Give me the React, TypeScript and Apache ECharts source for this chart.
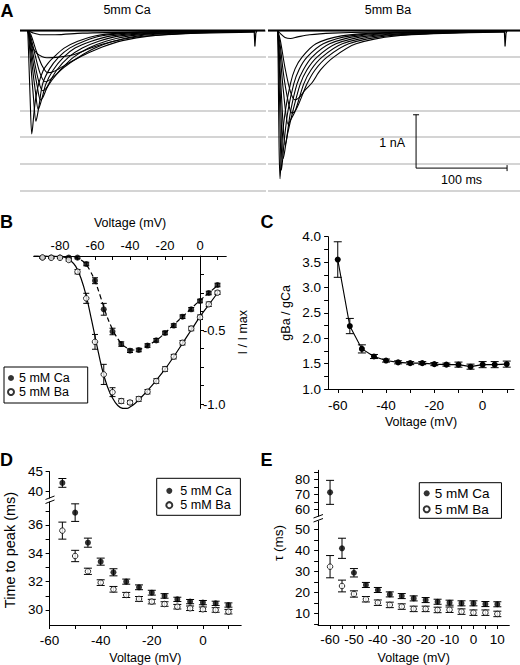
import React, { useEffect, useRef } from 'react';
import * as echarts from 'echarts';

const FONT = "'Liberation Sans', Arial, Helvetica, sans-serif";

// ---------- Panel A: current traces (t in ms, I in nA) ----------
const caTraces: number[][][] = [
  [[0,0],[0.8,-0.35],[2.5,-1.2],[4.4,-1.94],[5.5,-1.8],[7,-1.52],[9,-1.25],[12,-1.0],[17,-0.75],[22,-0.62],[28.6,-0.5],[40,-0.33],[55,-0.2],[75,-0.1],[100,-0.05],[150,-0.02],[250,-0.01]],
  [[0,0],[1,-0.1],[3,-0.55],[6.5,-1.3],[9,-1.70],[10.5,-1.6],[12.5,-1.4],[16.4,-1.0],[24,-0.72],[34,-0.5],[46,-0.33],[62,-0.2],[82,-0.1],[110,-0.05],[160,-0.02],[250,-0.01]],
  [[0,0],[1.5,-0.1],[4.5,-0.6],[8.5,-1.15],[11.5,-1.48],[13.5,-1.4],[16,-1.25],[20,-1.0],[28,-0.74],[39.5,-0.5],[52,-0.33],[70,-0.2],[92,-0.1],[125,-0.05],[180,-0.02],[250,-0.01]],
  [[0,0],[2,-0.1],[5.5,-0.55],[10.5,-1.05],[14,-1.3],[16.5,-1.26],[19.5,-1.14],[23.7,-0.98],[32,-0.74],[45,-0.5],[60,-0.33],[78,-0.2],[102,-0.1],[140,-0.05],[200,-0.02],[250,-0.01]],
  [[0,0],[2.5,-0.1],[6.5,-0.5],[12,-0.95],[16.5,-1.13],[19.5,-1.1],[23,-1.02],[28,-0.9],[37,-0.72],[50.5,-0.5],[67,-0.33],[86,-0.2],[112,-0.1],[150,-0.05],[210,-0.02],[250,-0.01]],
  [[0,0],[3,-0.1],[7.5,-0.42],[13.5,-0.8],[19,-0.96],[23,-0.94],[29,-0.86],[40,-0.69],[56,-0.5],[74,-0.33],[94,-0.2],[122,-0.1],[165,-0.05],[220,-0.02],[250,-0.015]],
  [[0,0],[3.5,-0.08],[8.5,-0.34],[15.5,-0.65],[22,-0.79],[27,-0.78],[34,-0.72],[46,-0.6],[63,-0.45],[82,-0.31],[104,-0.19],[135,-0.1],[180,-0.05],[250,-0.02]],
  [[0,0],[1.5,-0.1],[4.7,-0.29],[10,-0.43],[16,-0.49],[21,-0.51],[34,-0.5],[49,-0.46],[71,-0.32],[90,-0.22],[116,-0.13],[150,-0.08],[190,-0.05],[250,-0.03]],
  [[0,0],[5,-0.04],[15,-0.08],[30,-0.08],[60,-0.05],[120,-0.03],[250,-0.01]],
];
const baTraces: number[][][] = [
  [[0,0],[0.6,-0.8],[1.5,-2.2],[2.5,-2.78],[3.5,-2.5],[5,-2.0],[8.4,-1.5],[13.9,-1.0],[19,-0.72],[26.7,-0.5],[42,-0.25],[70,-0.1],[120,-0.04],[250,-0.01]],
  [[0,0],[1,-0.5],[2.5,-1.7],[4,-2.62],[5.2,-2.45],[7.5,-2.0],[11.3,-1.5],[17.6,-1.0],[23.5,-0.73],[32.2,-0.5],[50,-0.25],[80,-0.1],[135,-0.04],[250,-0.01]],
  [[0,0],[1.2,-0.4],[3.5,-1.5],[6,-2.4],[7.5,-2.28],[10,-2.0],[14.3,-1.5],[21.2,-1.0],[28,-0.74],[37.7,-0.5],[57,-0.25],[90,-0.1],[150,-0.04],[250,-0.01]],
  [[0,0],[1.5,-0.35],[4.5,-1.35],[8,-2.15],[9.3,-2.08],[11,-1.92],[16.8,-1.5],[24.8,-1.0],[32,-0.74],[43.2,-0.5],[64,-0.25],[100,-0.1],[165,-0.04],[250,-0.01]],
  [[0,0],[2,-0.3],[6,-1.1],[11.5,-1.76],[13.5,-1.7],[19.4,-1.5],[28.6,-1.0],[36.5,-0.74],[48.7,-0.5],[71,-0.25],[110,-0.1],[180,-0.04],[250,-0.015]],
  [[0,0],[2.5,-0.25],[7,-0.9],[13,-1.45],[16,-1.55],[19.5,-1.5],[23,-1.38],[32.2,-1.0],[41,-0.74],[54.2,-0.5],[78,-0.25],[120,-0.1],[195,-0.04],[250,-0.02]],
  [[0,0],[3,-0.2],[8,-0.7],[14,-1.15],[19,-1.3],[24,-1.25],[30,-1.12],[37.7,-0.98],[47,-0.74],[61.5,-0.5],[86,-0.25],[130,-0.1],[210,-0.04],[250,-0.03]],
  [[0,0],[3,-0.06],[8,-0.13],[14,-0.15],[22,-0.12],[35,-0.08],[60,-0.05],[100,-0.03],[250,-0.01]],
];
const caBaseline = [[-8.5, 0], [261, 0]];
const baBaseline = [[-10.7, 0], [266.2, 0]];
const caEndTransient = [[249, 0], [249.8, -0.3], [250.8, -0.05], [252, 0]];
const baEndTransient = [[249, 0], [249.8, -0.3], [250.8, -0.05], [252, 0]];
const scaleBar = [[152, -2.58, 100, 1]]; // origin t, origin I, 100 ms, 1 nA

// ---------- Panel B: normalized I-V ----------
const bVoltage = [-90,-85,-80,-75,-70,-65,-60,-55,-50,-45,-40,-35,-30,-25,-20,-15,-10,-5,0,5,10];
const bCa = [-0.01,-0.01,-0.01,-0.01,-0.011,-0.054,-0.167,-0.36,-0.51,-0.595,-0.64,-0.635,-0.605,-0.57,-0.52,-0.47,-0.41,-0.36,-0.304,-0.25,-0.196];
const bCaErr = [0.005,0.005,0.005,0.005,0.008,0.012,0.02,0.04,0.022,0.015,0.012,0.012,0.012,0.012,0.012,0.012,0.012,0.012,0.012,0.012,0.012];
const bBa = [-0.01,-0.012,-0.012,-0.027,-0.106,-0.286,-0.58,-0.80,-0.92,-0.98,-0.99,-0.966,-0.917,-0.845,-0.764,-0.68,-0.586,-0.49,-0.414,-0.326,-0.248];
const bBaErr = [0.005,0.005,0.005,0.008,0.015,0.034,0.05,0.068,0.03,0.015,0.012,0.015,0.015,0.015,0.015,0.015,0.015,0.015,0.015,0.015,0.012];
const bBaFitV = [-95,-85,-80,-77,-74,-71,-68,-65,-62,-59,-56,-53,-50,-47,-44,-42,-40,-37,-34,-30,-25,-20,-15,-10,-5,0,5,10];
const bBaFit = [0,0,-0.003,-0.01,-0.03,-0.07,-0.15,-0.27,-0.43,-0.6,-0.76,-0.88,-0.96,-1.01,-1.03,-1.03,-1.02,-0.995,-0.96,-0.91,-0.84,-0.765,-0.68,-0.59,-0.5,-0.41,-0.33,-0.25];
const bCaFitV = [-95,-75,-72,-69,-66,-63,-60,-57,-54,-51,-48,-45,-42,-39,-36,-33,-30,-25,-20,-15,-10,-5,0,5,10];
const bCaFit = [0,0,-0.005,-0.02,-0.045,-0.095,-0.17,-0.27,-0.38,-0.47,-0.54,-0.59,-0.62,-0.635,-0.635,-0.625,-0.605,-0.57,-0.52,-0.465,-0.41,-0.355,-0.3,-0.25,-0.2];

// ---------- Panel C: gBa / gCa ----------
const cVoltage = [-60,-55,-50,-45,-40,-35,-30,-25,-20,-15,-10,-5,0,5,10];
const cRatio = [3.55,2.24,1.79,1.64,1.56,1.525,1.51,1.51,1.49,1.48,1.48,1.44,1.48,1.48,1.49];
const cErr = [0.35,0.15,0.08,0.04,0.03,0.03,0.03,0.03,0.03,0.03,0.05,0.05,0.06,0.06,0.06];

// ---------- Panel D: time to peak ----------
const dVoltage = [-55,-50,-45,-40,-35,-30,-25,-20,-15,-10,-5,0,5,10];
const dCa = [42.2,36.87,34.75,33.41,32.66,32.0,31.6,31.22,30.99,30.75,30.59,30.52,30.47,30.35];
const dCaErr = [1.1,0.62,0.32,0.25,0.25,0.18,0.17,0.17,0.16,0.15,0.15,0.15,0.15,0.15];
const dBa = [35.6,33.81,32.73,31.93,31.46,31.06,30.78,30.59,30.42,30.23,30.12,30.05,30.0,29.88];
const dBaErr = [0.6,0.4,0.22,0.2,0.2,0.18,0.17,0.16,0.16,0.16,0.16,0.16,0.16,0.16];
const dBreakAt = 38;

// ---------- Panel E: tau ----------
const eVoltage = [-60,-55,-50,-45,-40,-35,-30,-25,-20,-15,-10,-5,0,5,10];
const eCa = [71.3,40.95,29.3,23.5,21.1,19.0,18.2,17.1,16.3,15.5,15.05,14.75,14.75,14.4,14.3];
const eCaErr = [8,4.8,2,1.2,1.2,1.2,1.2,1.2,1.2,1.2,1.2,1.2,1.2,1.2,1.2];
const eBa = [32.2,23.0,19.2,16.7,15.05,14.0,13.2,12.1,12.1,11.6,11.7,10.8,10.3,10.3,9.7];
const eBaErr = [5.3,2.8,1.5,1.3,1.3,1.3,1.3,1.3,1.3,1.3,1.3,1.3,1.3,1.3,1.3];
const eBreakAt = 55;

const CA = '5 mM Ca';
const BA = '5 mM Ba';

const range = (a: number, b: number, s: number) => {
  const out: number[] = [];
  for (let v = a; v <= b + 1e-9; v += s) out.push(Math.round(v * 1000) / 1000);
  return out;
};

function buildOption() {
  const black = '#000';
  const axisLine = { show: true, onZero: false, lineStyle: { color: black, width: 1 } };
  const tick = (vals: number[], inside = false) => ({ show: true, inside, length: 4, customValues: vals, lineStyle: { color: black, width: 1 } });
  const label = (vals: number[], margin: number, fmt?: (v: number) => string, size = 13.5) => ({
    show: true, customValues: vals, margin, color: black, fontFamily: FONT, fontSize: size,
    ...(fmt ? { formatter: fmt } : {}),
  });
  const nameStyle = (size = 12.5) => ({ fontFamily: FONT, fontSize: size, color: black });
  const noSplit = { show: false };
  const hiddenX = (gi: number, min: number, max: number) => ({ gridIndex: gi, type: 'value', min, max, show: false });

  // Panel B geometry: the I/Imax axis sits at 0 mV on the voltage axis
  const bMin = -95, bMax = 15, bWidth = 192.5;
  const bZeroOffset = -(bMax / (bMax - bMin)) * bWidth;

  const xAxis: any[] = [
    hiddenX(0, -8.5, 262),
    hiddenX(1, -10.7, 266.2),
    {
      gridIndex: 2, type: 'value', min: bMin, max: bMax, position: 'top', axisLine,
      axisTick: tick(range(-90, 10, 10), true), axisLabel: label([-80, -60, -40, -20, 0], 4, undefined, 13),
      splitLine: noSplit, name: 'Voltage (mV)', nameLocation: 'middle', nameGap: 27, nameTextStyle: nameStyle(),
    },
    {
      gridIndex: 3, type: 'value', min: -64, max: 13, axisLine,
      axisTick: tick(range(-60, 10, 10)), axisLabel: label([-60, -40, -20, 0], 9),
      splitLine: noSplit, name: 'Voltage (mV)', nameLocation: 'middle', nameGap: 26, nameTextStyle: nameStyle(),
    },
    hiddenX(4, -60, 15),
    {
      gridIndex: 5, type: 'value', min: -60, max: 15, axisLine,
      axisTick: tick(range(-60, 10, 10)), axisLabel: label([-60, -40, -20, 0], 8),
      splitLine: noSplit, name: 'Voltage (mV)', nameLocation: 'middle', nameGap: 26, nameTextStyle: nameStyle(),
    },
    hiddenX(6, -65, 15),
    {
      gridIndex: 7, type: 'value', min: -65, max: 15, axisLine,
      axisTick: tick(range(-60, 10, 5)), axisLabel: label(range(-60, 10, 10), 7.5),
      splitLine: noSplit, name: 'Voltage (mV)', nameLocation: 'middle', nameGap: 26, nameTextStyle: nameStyle(),
    },
  ];

  const aY = (gi: number) => ({
    gridIndex: gi, type: 'value', min: -3, max: 0.3, interval: 0.5,
    axisLine: { show: false }, axisTick: { show: false }, axisLabel: { show: false },
    splitLine: { show: true, showMaxLine: false, lineStyle: { color: '#c6c6c6', width: 1.5 } },
  });
  const fix1 = (v: number) => v.toFixed(1);

  const yAxis: any[] = [
    aY(0),
    aY(1),
    {
      gridIndex: 2, type: 'value', min: -1.03, max: 0, position: 'right', offset: bZeroOffset,
      axisLine,
      axisTick: tick(range(-1, -0.125, 0.125)), axisLabel: label([-0.5, -1.0], 3, fix1, 13),
      splitLine: noSplit, name: 'I / I max', nameLocation: 'middle', nameGap: 36, nameTextStyle: nameStyle(),
    },
    {
      gridIndex: 3, type: 'value', min: 1, max: 4, axisLine,
      axisTick: tick(range(1, 4, 0.25)), axisLabel: label(range(1, 4, 0.5), 7, fix1),
      splitLine: noSplit, name: 'gBa / gCa', nameLocation: 'middle', nameGap: 36, nameTextStyle: nameStyle(),
    },
    {
      gridIndex: 4, type: 'value', min: 38.4, max: 45, axisLine,
      axisTick: tick([40, 45]), axisLabel: label([40, 45], 6.5), splitLine: noSplit,
    },
    {
      gridIndex: 5, type: 'value', min: 28.94, max: 37.62, axisLine,
      axisTick: tick(range(30, 37, 1)), axisLabel: label([30, 32, 34, 36], 6.5), splitLine: noSplit,
    },
    {
      gridIndex: 6, type: 'value', min: 55.5, max: 86, axisLine,
      axisTick: tick([60, 65, 70, 75, 80, 85]), axisLabel: label([60, 70, 80], 8), splitLine: noSplit,
    },
    {
      gridIndex: 7, type: 'value', min: 4.43, max: 53.95, axisLine,
      axisTick: tick(range(5, 50, 5)), axisLabel: label(range(10, 50, 10), 8), splitLine: noSplit,
    },
  ];

  const grid = [
    { left: 20, top: 14.5, width: 246, height: 176 },
    { left: 268, top: 14.5, width: 252, height: 176 },
    { left: 33.75, top: 256, width: bWidth, height: 152.44 },
    { left: 328.1, top: 236.7, width: 185.9, height: 152.3 },
    { left: 49.6, top: 471.7, width: 191.6, height: 26.4 },
    { left: 49.6, top: 502, width: 191.6, height: 123 },
    { left: 318.1, top: 470.3, width: 191.2, height: 45.75 },
    { left: 318.1, top: 521, width: 191.2, height: 104 },
  ];

  const trace = (data: number[][], gi: number, width = 1.1, smooth: number | boolean = 0.3) => ({
    type: 'line', xAxisIndex: gi, yAxisIndex: gi, data, symbol: 'none', smooth,
    lineStyle: { color: black, width }, silent: true, z: 3,
  });

  const errBars = (data: number[][], gi: number, cap: number) => ({
    type: 'custom', xAxisIndex: gi, yAxisIndex: gi, data, clip: false, silent: true, z: 3,
    encode: { x: 0, y: 1 },
    renderItem: (_p: any, api: any) => {
      const x = api.value(0), y = api.value(1), e = api.value(2);
      const a = api.coord([x, y + e]);
      const b = api.coord([x, y - e]);
      const st = { stroke: black, lineWidth: 1 };
      return {
        type: 'group', children: [
          { type: 'line', shape: { x1: a[0], y1: a[1], x2: b[0], y2: b[1] }, style: st },
          { type: 'line', shape: { x1: a[0] - cap, y1: a[1], x2: a[0] + cap, y2: a[1] }, style: st },
          { type: 'line', shape: { x1: b[0] - cap, y1: b[1], x2: b[0] + cap, y2: b[1] }, style: st },
        ],
      };
    },
  });

  const scatter = (name: string, data: number[][], gi: number, filled: boolean) => ({
    type: 'scatter', name, xAxisIndex: gi, yAxisIndex: gi, data: data.map(p => [p[0], p[1]]),
    symbol: 'circle', symbolSize: filled ? 6 : 5.5, clip: false, silent: true, z: 5,
    itemStyle: filled ? { color: black } : { color: '#fff', borderColor: black, borderWidth: 1 },
  });

  const zip3 = (xs: number[], ys: number[], es: number[]) => xs.map((x, i) => [x, ys[i], es[i]]);
  const zip2 = (xs: number[], ys: number[]) => xs.map((x, i) => [x, ys[i]]);

  const bCaPts = zip3(bVoltage, bCa, bCaErr);
  const bBaPts = zip3(bVoltage, bBa, bBaErr);
  const cPts = zip3(cVoltage, cRatio, cErr);
  const dCaPts = zip3(dVoltage, dCa, dCaErr);
  const dBaPts = zip3(dVoltage, dBa, dBaErr);
  const eCaPts = zip3(eVoltage, eCa, eCaErr);
  const eBaPts = zip3(eVoltage, eBa, eBaErr);

  const series: any[] = [];
  // Panel A
  series.push(trace(caBaseline, 0, 2.2, false));
  series.push(trace(baBaseline, 1, 2.2, false));
  caTraces.forEach(t => series.push(trace(t, 0)));
  baTraces.forEach(t => series.push(trace(t, 1)));
  series.push(trace(caEndTransient, 0, 1.2, false));
  series.push(trace(baEndTransient, 1, 1.2, false));
  series.push({
    type: 'custom', xAxisIndex: 1, yAxisIndex: 1, data: scaleBar, clip: false, silent: true, z: 4,
    encode: { x: 0, y: 1 },
    renderItem: (_p: any, api: any) => {
      const t0 = api.value(0), i0 = api.value(1), dt = api.value(2), di = api.value(3);
      const o = api.coord([t0, i0]);
      const top = api.coord([t0, i0 + di]);
      const end = api.coord([t0 + dt, i0]);
      const st = { stroke: black, lineWidth: 1 };
      const ts = { fontFamily: FONT, fontSize: 12.5, fill: black };
      return {
        type: 'group', children: [
          { type: 'line', shape: { x1: o[0], y1: o[1], x2: top[0], y2: top[1] }, style: st },
          { type: 'line', shape: { x1: o[0], y1: o[1], x2: end[0], y2: end[1] }, style: st },
          { type: 'line', shape: { x1: top[0] - 3, y1: top[1], x2: top[0] + 3, y2: top[1] }, style: st },
          { type: 'line', shape: { x1: end[0], y1: end[1] - 3, x2: end[0], y2: end[1] + 3 }, style: st },
          { type: 'text', x: o[0] - 11, y: (o[1] + top[1]) / 2 + 2, style: { ...ts, text: di + ' nA', align: 'right', verticalAlign: 'middle' } },
          { type: 'text', x: (o[0] + end[0]) / 2, y: o[1] + 12, style: { ...ts, text: dt + ' ms', align: 'center', verticalAlign: 'middle' } },
        ],
      };
    },
  });

  // Panel B
  series.push({ ...trace(zip2(bBaFitV, bBaFit), 2, 1.2, 0.4), z: 2 });
  series.push({ ...trace(zip2(bCaFitV, bCaFit), 2, 1.2, 0.4), z: 2, lineStyle: { color: black, width: 1.2, type: [5, 3] } });
  series.push(errBars(bCaPts, 2, 3));
  series.push(errBars(bBaPts, 2, 3));
  series.push(scatter(CA, bCaPts, 2, true));
  series.push(scatter(BA, bBaPts, 2, false));

  // Panel C
  series.push(errBars(cPts, 3, 4));
  series.push({
    type: 'line', xAxisIndex: 3, yAxisIndex: 3, data: cPts.map(p => [p[0], p[1]]),
    symbol: 'circle', symbolSize: 6, showSymbol: true, itemStyle: { color: black },
    lineStyle: { color: black, width: 1.1 }, silent: true, z: 5,
  });

  // Panel D (broken axis: upper grid 4, lower grid 5)
  const dSplit = (pts: number[][], upper: boolean) => pts.filter(p => (p[1] > dBreakAt) === upper);
  [true, false].forEach(upper => {
    const gi = upper ? 4 : 5;
    series.push(errBars(dSplit(dCaPts, upper), gi, 4));
    series.push(errBars(dSplit(dBaPts, upper), gi, 4));
    series.push(scatter(CA, dSplit(dCaPts, upper), gi, true));
    series.push(scatter(BA, dSplit(dBaPts, upper), gi, false));
  });

  // Panel E (broken axis: upper grid 6, lower grid 7)
  const eSplit = (pts: number[][], upper: boolean) => pts.filter(p => (p[1] > eBreakAt) === upper);
  [true, false].forEach(upper => {
    const gi = upper ? 6 : 7;
    series.push(errBars(eSplit(eCaPts, upper), gi, 4));
    series.push(errBars(eSplit(eBaPts, upper), gi, 4));
    series.push(scatter(CA, eSplit(eCaPts, upper), gi, true));
    series.push(scatter(BA, eSplit(eBaPts, upper), gi, false));
  });

  const legendBase = (left: number, top: number, padding: number[], size: number, lh: number, textPad: number) => ({
    data: [CA, BA], orient: 'vertical', left, top, padding, itemGap: 0, itemWidth: 6, itemHeight: 6,
    borderColor: black, borderWidth: 1, borderRadius: 0, selectedMode: false, icon: 'circle',
    textStyle: { fontFamily: FONT, fontSize: size, lineHeight: lh, color: black, padding: [0, 0, 0, textPad] },
  });

  const txt = (text: string, x: number, y: number, size: number, bold = false, align = 'left', rotation = 0) => ({
    type: 'text', x, y, rotation, silent: true,
    style: {
      text, fontFamily: FONT, fontSize: size, fontWeight: bold ? 'bold' : 'normal', fill: black,
      align, verticalAlign: 'middle', textAlign: align, textVerticalAlign: 'middle',
    },
  });
  const seg = (x1: number, y1: number, x2: number, y2: number) => ({
    type: 'line', silent: true, shape: { x1, y1, x2, y2 }, style: { stroke: black, lineWidth: 1 },
  });

  const graphic = [
    txt('A', 0.5, 11, 18, true),
    txt('5mm Ca', 127, 9.5, 12.5, false, 'center'),
    txt('5mm Ba', 388, 9.5, 12.5, false, 'center'),
    txt('B', 0, 221.7, 18, true),
    txt('C', 260.5, 221.5, 18, true),
    txt('D', 0, 460, 18, true),
    txt('E', 260.5, 460, 18, true),
    txt('Time to peak (ms)', 10, 550, 14.5, false, 'center', Math.PI / 2),
    txt('τ (ms)', 278.3, 543, 13.5, false, 'center', Math.PI / 2),
    seg(45.5, 499.5, 54.5, 496),
    seg(45.5, 503.5, 54.5, 500),
    seg(313.5, 518, 323, 514.5),
    seg(313.5, 522, 323, 518.5),
  ];

  return {
    animation: false,
    grid,
    xAxis,
    yAxis,
    series,
    graphic,
    legend: [
      legendBase(4, 367, [4, 18, 4, 3], 12.5, 14, 0),
      legendBase(156.7, 478.3, [5.4, 9, 3, 8.6], 12.6, 14.3, 3),
      legendBase(419.3, 482.7, [2.6, 12, 1, 3.4], 13.5, 16, 0),
    ],
  };
}

export default function App() {
  const ref = useRef<HTMLDivElement>(null);
  useEffect(() => {
    document.body.style.margin = '0';
    if (!ref.current) return;
    const chart = echarts.init(ref.current, null, { renderer: 'svg' });
    chart.setOption(buildOption() as any);
    return () => chart.dispose();
  }, []);
  return <div ref={ref} style={{ width: 520, height: 665 }} />;
}
